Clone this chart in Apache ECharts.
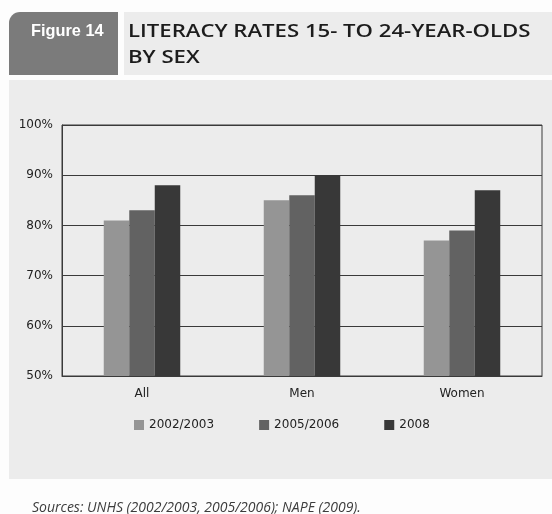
<!DOCTYPE html>
<html>
<head>
<meta charset="utf-8">
<script src="https://cdn.jsdelivr.net/npm/echarts@6/dist/echarts.min.js"></script>
<style>
  html, body { margin: 0; padding: 0; background: #fdfdfd; }
  #chart { width: 552px; height: 514px; }
</style>
</head>
<body>
<div id="chart"></div>
<script>
// Literacy rates of 15- to 24-year-olds, by sex and survey round
const categories = ['All', 'Men', 'Women'];
const seriesNames = ['2002/2003', '2005/2006', '2008'];
const rates2002 = [81, 85, 77];
const rates2005 = [83, 86, 79];
const rates2008 = [88, 90, 87];
const yTicks = [50, 60, 70, 80, 90, 100];

const barColors = ['#959595', '#626262', '#383838'];
const seriesValues = [rates2002, rates2005, rates2008];
const labelFont = '"DejaVu Sans", sans-serif';

const chart = echarts.init(document.getElementById('chart'), null, { renderer: 'canvas' });

const option = {
  backgroundColor: '#fdfdfd',
  animation: false,
  graphic: [
    // header tab and title box
    { type: 'rect', z: -10, shape: { x: 9, y: 12, width: 109, height: 63, r: [11, 0, 0, 0] }, style: { fill: '#7b7b7b' } },
    { type: 'rect', z: -10, shape: { x: 124, y: 12, width: 428, height: 63 }, style: { fill: '#ececec' } },
    // chart panel
    { type: 'rect', z: -10, shape: { x: 9, y: 80, width: 543, height: 399 }, style: { fill: '#ececec' } },
    { type: 'text', x: 31, y: 31, scaleX: 0.96, style: { text: 'Figure 14', fill: '#ffffff', verticalAlign: 'middle', font: 'bold 17px "Liberation Sans", sans-serif' } },
    { type: 'text', x: 128, y: 19, scaleX: 1.23, style: { text: 'LITERACY RATES 15- TO 24-YEAR-OLDS\nBY SEX', fill: '#1c1c1c', lineHeight: 26, font: '600 18px "Open Sans", sans-serif' } },
    { type: 'text', x: 32, y: 501, style: { text: 'Sources: UNHS (2002/2003, 2005/2006); NAPE (2009).', fill: '#3c3c3c', font: 'italic 14px "Open Sans", sans-serif' } }
  ],
  legend: {
    left: 129,
    top: 414,
    itemWidth: 10,
    itemHeight: 10,
    itemGap: 45,
    icon: 'rect',
    data: seriesNames,
    textStyle: { fontFamily: labelFont, fontSize: 12, color: '#222' }
  },
  grid: {
    left: 62,
    right: 10,
    top: 125,
    bottom: 138,
    show: true,
    borderColor: '#3a3a3a',
    borderWidth: 1,
    backgroundColor: 'transparent'
  },
  xAxis: {
    type: 'category',
    data: categories,
    axisTick: { show: false },
    axisLine: { lineStyle: { color: '#3a3a3a' } },
    axisLabel: { fontFamily: labelFont, fontSize: 12, color: '#222', margin: 12 }
  },
  yAxis: {
    type: 'value',
    min: yTicks[0],
    max: yTicks[yTicks.length - 1],
    interval: 10,
    axisLine: { show: true, lineStyle: { color: '#3a3a3a' } },
    axisTick: { show: false },
    splitLine: { lineStyle: { color: '#3a3a3a', width: 1 } },
    axisLabel: { formatter: '{value}%', fontFamily: labelFont, fontSize: 12, color: '#222', margin: 9 }
  },
  series: seriesNames.map((name, i) => ({
    name: name,
    type: 'bar',
    data: seriesValues[i],
    barWidth: 25.5,
    barGap: '0%',
    itemStyle: { color: barColors[i] }
  }))
};

chart.setOption(option);
</script>
</body>
</html>
